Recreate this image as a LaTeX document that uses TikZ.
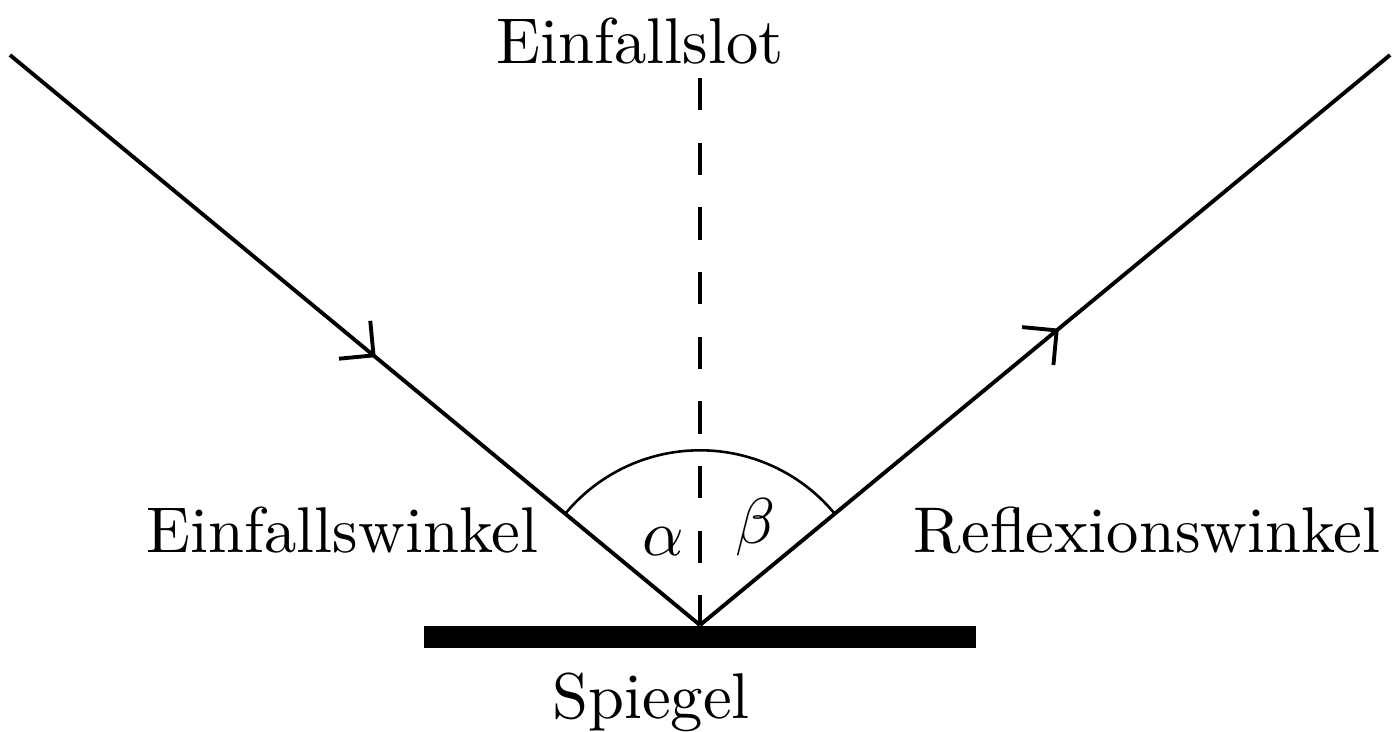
\documentclass[tikz,border=0pt]{standalone}
\usepackage{amsmath}
\usepackage{tikz}
\usetikzlibrary{arrows.meta, decorations.markings}

\begin{document}
\begin{tikzpicture}[ray/.style={semithick},
                    barb/.style={decoration={markings, mark=at position #1 with {\arrow[semithick]{Straight Barb[length=3.8pt,width=7.6pt]}}}, postaction={decorate}},
                    lot/.style={semithick, dash pattern=on 5pt off 5pt},
                    lbl/.style={anchor=base, inner sep=0pt}]
  \useasboundingbox (-3.804,-0.576) rectangle (3.804,3.397);
  \coordinate (o) at (0,0);
  \coordinate (q) at (-3.75,3.098);
  \coordinate (r) at (3.75,3.098);
  \coordinate (n) at (0,2.973);
  \coordinate (m1) at (-1.5,-0.062);
  \coordinate (m2) at (1.5,-0.062);
  % mirror and normal
  \draw[line width=3.4pt] (m1) -- (m2);
  \draw[lot] (n) -- (o);
  % rays
  \draw[ray, barb=0.53] (q) -- (o);
  \draw[ray, barb=0.52] (o) -- (r);
  \draw[thin] (o) ++(39.6:0.95) arc (39.6:140.4:0.95);
  % labels
  \node[lbl] (lottext) at (-0.326,3.054) {Einfallslot};
  \node[lbl] (ein) at (-1.943,0.397) {Einfallswinkel};
  \node[lbl] (refl) at (2.429,0.397) {Reflexionswinkel};
  \node[lbl] (spiegel) at (-0.266,-0.505) {Spiegel};
  \node[lbl] (alpha) at (-0.201,0.38) {$\alpha$};
  \node[lbl] (beta) at (0.299,0.446) {$\beta$};
\end{tikzpicture}
\end{document}
